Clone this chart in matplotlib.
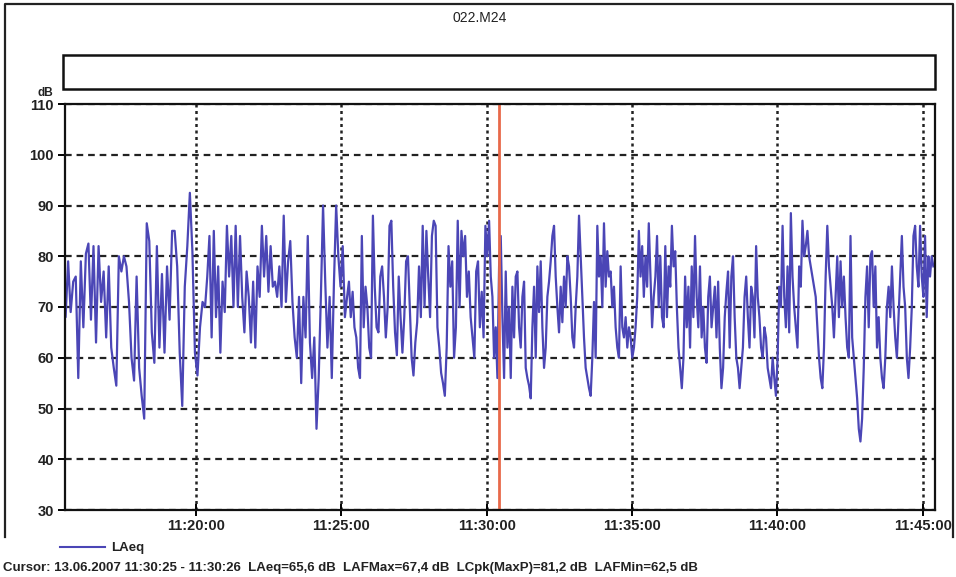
import numpy as np
import pandas as pd
import matplotlib
matplotlib.use("Agg")
import matplotlib.pyplot as plt
from matplotlib.ticker import FuncFormatter, MultipleLocator
from matplotlib.patches import Rectangle
from matplotlib.lines import Line2D

plt.rcParams['font.family'] = ['Liberation Sans', 'DejaVu Sans']

# LAeq readings (dB) in six chunks
laeq_1 = [71, 68, 79, 69, 75, 76, 56, 79, 66, 80.5, 82.5, 67.5, 82, 63, 82, 71, 77, 64, 78, 62,
          58, 54.5, 80, 77, 80, 78, 71, 60, 55.5, 76, 58, 52.5, 48, 86.5, 83, 65, 59, 82, 62, 76.5,
          61, 78, 67.5, 85, 85, 78, 61, 50.5, 74, 82, 92.5, 81, 61, 56.5, 66, 71]
laeq_2 = [70, 76, 84, 64, 85, 68, 78, 61, 75, 69, 86, 76, 84, 70, 86, 70, 84, 72, 65, 77,
          72, 63, 75, 62, 78, 72, 86, 76, 84, 73, 82, 74, 75, 72, 78, 70, 88, 71, 79, 83,
          71, 64, 60, 72, 55, 72, 64, 84, 63, 56, 64, 46, 56, 72, 90, 75, 62, 72, 56, 75,
          90, 80, 74, 82, 68]
laeq_3 = [72, 75, 68, 73, 66, 64, 58, 56, 84, 66, 74, 70, 62, 60, 88, 74, 66, 65, 76, 78,
          72, 64, 70, 86, 87, 74, 65, 60.5, 76, 68, 61, 68, 79, 80, 70, 60, 56.5, 63, 67, 78,
          68, 86, 70, 85, 76, 68, 84, 87, 86, 66, 62, 57, 55, 52.5, 62, 82, 74, 79, 60, 66,
          87, 70, 85, 80, 84, 72, 77, 68, 64, 60, 77, 79, 66, 73, 64, 86, 80]
laeq_4 = [87, 76, 72, 60, 66, 56, 78, 84, 68, 56, 77, 62, 70, 56, 74, 64, 76, 77, 66, 62,
          72, 75, 58, 56, 54.5, 52, 66, 74, 60, 78, 69, 79, 66, 58, 62, 72, 75, 79, 84, 86,
          76, 70, 65, 74, 67, 76, 70, 80, 78, 72, 64, 62, 70, 76, 88, 80, 72, 64, 58, 56,
          54, 52.5, 60, 71, 60, 86, 76, 80, 70, 86.5, 74, 81, 76, 77, 70, 74, 66, 62, 60, 78,
          66, 64, 68, 62, 66]
laeq_5 = [64, 60, 62, 66, 72, 85, 76, 82, 72, 80, 74, 86.5, 76, 66, 72, 76, 84, 70, 80, 68,
          66, 82, 68, 78, 74, 86, 78, 81, 70, 62, 58, 54, 60, 76, 66, 74, 62, 78, 68, 84,
          72, 66, 78, 64, 70, 62, 59, 72, 76, 66, 70, 74, 64, 75, 62, 54, 58, 68, 73, 77,
          62, 76, 80, 68, 60, 58, 54, 58, 62, 72, 76, 68, 62, 74, 72, 64, 82, 72, 68, 62,
          60, 66, 64, 58, 56, 54]
laeq_6 = [60, 56, 52.5, 60, 74, 70, 86, 72, 66, 78, 65, 88.5, 76, 70, 66, 62, 78, 74, 87, 80,
          82, 85, 80, 78, 76, 74, 72, 66, 60, 56, 54, 62, 76, 86, 78, 74, 70, 64, 72, 80,
          68, 79, 70, 76, 68, 62, 60, 84, 64, 60, 56, 52, 46, 43.5, 48, 58, 72, 78, 66, 80,
          81, 70, 78, 62, 68, 60, 56, 54, 60, 70, 74, 68, 78, 70, 64, 60, 68, 76, 84, 74,
          70, 60, 56, 62, 70, 84, 86, 78, 74, 86, 76, 72, 84, 68, 80, 76, 80, 78]
chunks = [laeq_1, laeq_2, laeq_3, laeq_4, laeq_5, laeq_6]
chunk_edges = ["11:15:26", "11:20:19", "11:25:12", "11:30:05", "11:34:57", "11:39:50", "11:45:25"]

cursor_time = "11:30:25"
t_start, t_end = "11:15:30", "11:45:25"
y_ticks = [30, 40, 50, 60, 70, 80, 90, 100, 110]


def secs(hms):
    return pd.to_timedelta(hms).total_seconds()


def hms(x, pos=None):
    x = int(round(x))
    return "%d:%02d:%02d" % (x // 3600, (x // 60) % 60, x % 60)


times = []
values = []
for i, ch in enumerate(chunks):
    a = secs(chunk_edges[i])
    b = secs(chunk_edges[i + 1])
    n = len(ch)
    times += [a + (b - a) * k / n for k in range(n)]
    values += ch

W, H = 956, 577
fig = plt.figure(figsize=(W / 100, H / 100), dpi=100)
ax = fig.add_axes([65 / W, 1 - 510 / H, 870 / W, 406 / H])

line_col = '#4b46b6'
ax.plot(times, values, color=line_col, lw=1.6)
ax.axvline(secs(cursor_time), color='#e8694a', lw=2.0)

ax.set_xlim(secs(t_start), secs(t_end))
ax.set_ylim(30, 110)
ax.set_yticks(y_ticks)
ax.xaxis.set_major_locator(MultipleLocator(300))
ax.xaxis.set_major_formatter(FuncFormatter(hms))

ax.yaxis.grid(True, color='#222222', lw=1.6, ls=(0, (3, 2.2)))
ax.xaxis.grid(True, color='#222222', lw=1.8, ls=(0, (1.2, 1.4)))
ax.set_axisbelow(True)
for s in ax.spines.values():
    s.set_color('#111111')
    s.set_linewidth(1.6)

ax.tick_params(axis='y', direction='out', length=5, width=1.4, labelsize=10.5, pad=3)
ax.tick_params(axis='x', direction='inout', length=9, width=1.4, labelsize=10.5, pad=2)
for lab in ax.get_yticklabels() + ax.get_xticklabels():
    lab.set_fontweight('bold')
    lab.set_color('#222222')

# page furniture: frame, title, empty header box, unit, legend, cursor readout
fig.lines.append(Line2D([5 / W, 5 / W, 953 / W, 953 / W],
                        [1 - 537 / H, 1 - 4 / H, 1 - 4 / H, 1 - 537 / H],
                        transform=fig.transFigure, color='#222222', lw=1.6))
fig.patches.append(Rectangle((63 / W, 1 - 89 / H), 872 / W, 34 / H, transform=fig.transFigure,
                             fill=False, ec='#111111', lw=1.8))
fig.text(480 / W, 1 - 18 / H, "022.M24", ha='center', va='center', fontsize=10, color='#222222')
fig.text(45 / W, 1 - 93 / H, "dB", ha='center', va='center', fontsize=8.5, fontweight='bold',
         color='#222222')
fig.lines.append(Line2D([60 / W, 105 / W], [1 - 547 / H, 1 - 547 / H], transform=fig.transFigure,
                        color=line_col, lw=1.5))
fig.text(111 / W, 1 - 548 / H, "LAeq", ha='left', va='center', fontsize=9.5, fontweight='bold',
         color='#222222')
fig.text(3 / W, 1 - 568 / H,
         "Cursor: 13.06.2007 11:30:25 - 11:30:26  LAeq=65,6 dB  LAFMax=67,4 dB  "
         "LCpk(MaxP)=81,2 dB  LAFMin=62,5 dB",
         ha='left', va='center', fontsize=9.5, fontweight='bold', color='#222222')

fig.savefig("out.png", dpi=100)
